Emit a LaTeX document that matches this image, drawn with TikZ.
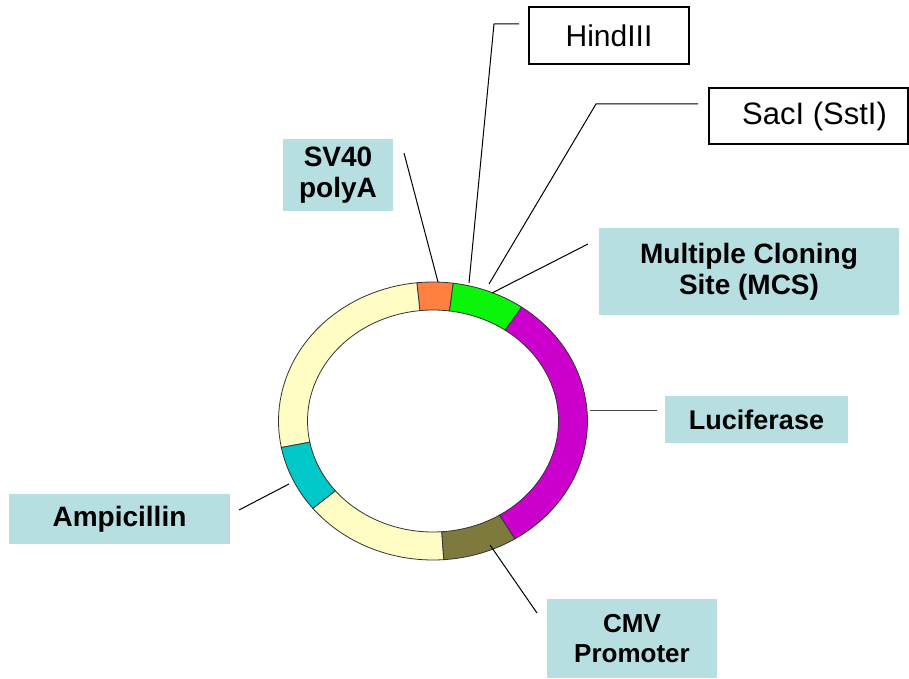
\documentclass[tikz,border=0pt]{standalone}
\usepackage{fontspec}
\setmainfont{Liberation Sans}
\definecolor{ringcream}{RGB}{255,252,196}
\definecolor{ringorange}{RGB}{255,128,64}
\definecolor{ringgreen}{RGB}{10,245,10}
\definecolor{ringmagenta}{RGB}{204,0,204}
\definecolor{ringolive}{RGB}{126,122,62}
\definecolor{ringcyan}{RGB}{0,200,200}
\definecolor{labelblue}{RGB}{183,222,224}
\begin{document}
\begin{tikzpicture}[x=1pt,y=-1pt,
  tag/.style={fill=labelblue, inner sep=0pt, align=center,
    font=\bfseries\fontsize{28}{31}\selectfont},
  site/.style={draw=black, line width=1.1pt, fill=white, inner sep=0pt,
    font=\fontsize{30}{33}\selectfont},
  lead/.style={draw=black, line width=1pt},
  segment/.style={draw=black!80, line width=0.8pt}]
\useasboundingbox (0,0) rectangle (909,679);
% ring geometry: centre and outer/inner radii
\def\cx{433}\def\cy{421}
\def\ro{154.5}\def\so{139}
\def\ri{125.5}\def\si{111}
% annular segment between two angles (counter-clockwise, y up)
\newcommand{\ringpart}[3]{%
  \path[segment, fill=#3]
    plot[domain=#1:#2, samples=40] ({\cx+\ro*cos(\x)}, {\cy-\so*sin(\x)})
    -- plot[domain=#2:#1, samples=40] ({\cx+\ri*cos(\x)}, {\cy-\si*sin(\x)})
    -- cycle;}
\ringpart{-58}{55}{ringmagenta}
\ringpart{55}{82.5}{ringgreen}
\ringpart{82.5}{96}{ringorange}
\ringpart{96}{191}{ringcream}
\ringpart{191}{219}{ringcyan}
\ringpart{219}{274}{ringcream}
\ringpart{274}{302}{ringolive}

% label boxes
\node[tag, minimum width=110, minimum height=72] (sv40) at (338,175) {SV40\\polyA};
\node[tag, minimum width=300, minimum height=87] (mcs) at (749,271.5) {Multiple Cloning\\Site (MCS)};
\node[tag, minimum width=183, minimum height=47, font=\bfseries\fontsize{27}{31}\selectfont] (luc) at (756.5,419.5) {Luciferase};
\node[tag, minimum width=221, minimum height=50] (amp) at (119.5,519) {Ampicillin};
\node[tag, minimum width=170, minimum height=79, font=\bfseries\fontsize{26}{30}\selectfont] (cmv) at (632,638.5) {CMV\\Promoter};
\node[site, minimum width=160, minimum height=57] (hind) at (609,35.5) {HindIII};
\node[site, minimum width=199, minimum height=56, font=\fontsize{31}{34}\selectfont] (sac) at (808.5,116) {\hspace{12pt}SacI (SstI)};

% leader line end points
\coordinate (sv40a) at (404,153);   \coordinate (sv40b) at (438,282);
\coordinate (hinda) at (519,24);    \coordinate (hindk) at (494,24);
\coordinate (hindb) at (469,283);
\coordinate (saca) at (698,104);    \coordinate (sack) at (596,104);
\coordinate (sacb) at (489,284);
\coordinate (mcsa) at (588,244);    \coordinate (mcsb) at (492,293);
\coordinate (luca) at (657,410);    \coordinate (lucb) at (590,410);
\coordinate (ampa) at (239,510);    \coordinate (ampb) at (289,484);
\coordinate (cmva) at (537,613);    \coordinate (cmvb) at (490,545);

\draw[lead] (sv40a) -- (sv40b);
\draw[lead] (hinda) -- (hindk) -- (hindb);
\draw[lead] (saca) -- (sack) -- (sacb);
\draw[lead] (mcsa) -- (mcsb);
\draw[lead, draw=black!70] (luca) -- (lucb);
\draw[lead] (ampa) -- (ampb);
\draw[lead] (cmva) -- (cmvb);
\end{tikzpicture}
\end{document}
